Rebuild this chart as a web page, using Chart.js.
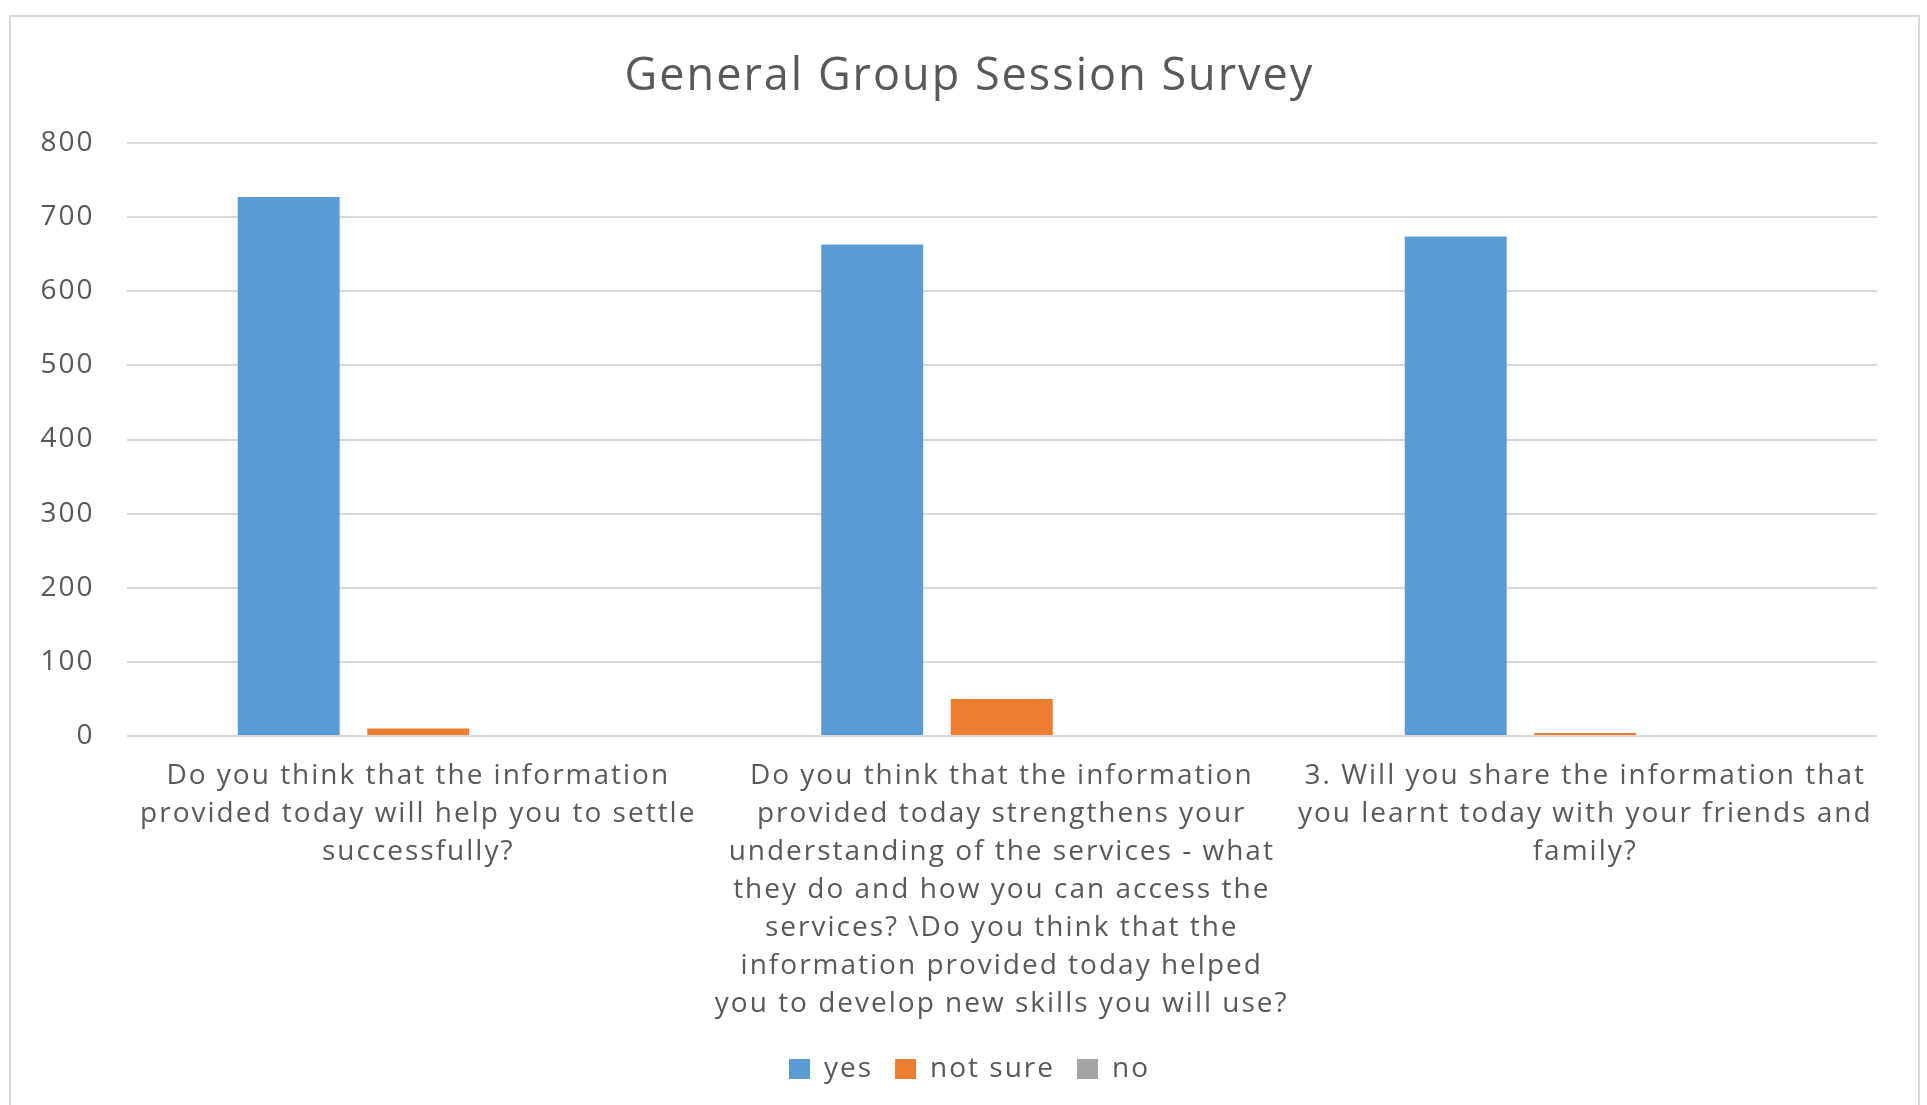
<!DOCTYPE html>
<html>
<head>
<meta charset="utf-8">
<script src="https://cdn.jsdelivr.net/npm/chart.js@4"></script>
<style>
  html, body { margin: 0; padding: 0; background: #ffffff; }
  #wrap { position: absolute; left: 0; top: 0; width: 1927px; height: 1105px; }
  #frame { position: absolute; left: 9px; top: 15px; width: 1907px; height: 1100px;
           border: 2px solid #d9d9d9; border-bottom: none; }
  canvas { position: absolute; left: 0; top: 0; }
</style>
</head>
<body>
<div id="wrap">
  <div id="frame"></div>
  <canvas id="c" width="1927" height="1105"></canvas>
</div>
<script>
const chartTitle = "General Group Session Survey";
const categories = [
  ["Do you think that the information", "provided today will help you to settle", "successfully?"],
  ["Do you think that the information", "provided today strengthens your", "understanding of the services - what", "they do and how you can access the", "services? \\Do you think that the", "information provided today helped", "you to develop new skills you will use?"],
  ["3. Will you share the information that", "you learnt today with your friends and", "family?"]
];
const seriesNames = ["yes", "not sure", "no"];
const yesValues = [727, 663, 674];
const notSureValues = [10, 50, 4];
const noValues = [0, 0, 0];
const yTicks = [0, 100, 200, 300, 400, 500, 600, 700, 800];

const colors = ["#5B9BD5", "#ED7D31", "#A5A5A5"];
const textColor = "#595959";

const spacingPlugin = {
  id: 'spacing',
  beforeLayout(chart) { chart.ctx.letterSpacing = '2px'; },
  beforeDraw(chart) { chart.ctx.letterSpacing = '2px'; }
};

const ctx = document.getElementById('c');
new Chart(ctx, {
  type: 'bar',
  data: {
    labels: categories,
    datasets: [
      { label: seriesNames[0], data: yesValues, backgroundColor: colors[0] },
      { label: seriesNames[1], data: notSureValues, backgroundColor: colors[1] },
      { label: seriesNames[2], data: noValues, backgroundColor: colors[2] }
    ]
  },
  options: {
    responsive: false,
    animation: false,
    devicePixelRatio: 1,
    layout: { padding: { left: 12, right: 0, top: 0, bottom: 12 } },
    datasets: { bar: { categoryPercentage: 0.666, barPercentage: 0.787, borderWidth: 0 } },
    plugins: {
      title: {
        display: true,
        text: chartTitle,
        color: textColor,
        font: { family: "'Open Sans'", size: 45, weight: 'normal', lineHeight: 1.2 },
        padding: { top: 50, bottom: 39 }
      },
      legend: {
        position: 'bottom',
        labels: {
          color: textColor,
          font: { family: "'Open Sans'", size: 28 },
          boxWidth: 21, boxHeight: 20, padding: 22
        }
      },
      tooltip: { enabled: false }
    },
    scales: {
      x: {
        grid: { display: false, drawTicks: false },
        border: { display: false },
        ticks: {
          color: textColor, autoSkip: false, maxRotation: 0, minRotation: 0, padding: 21,
          font: { family: "'Open Sans'", size: 28, lineHeight: 1.355 }
        },
        afterFit(scale) { scale.height = 297; }
      },
      y: {
        min: 0, max: 800,
        afterBuildTicks(scale) { scale.ticks = yTicks.map(v => ({ value: v })); },
        grid: { color: "#d9d9d9", lineWidth: 2, drawTicks: false },
        border: { display: false },
        ticks: {
          color: textColor, padding: 32,
          font: { family: "'Open Sans'", size: 28 }
        },
        afterFit(scale) { scale.width = 114.5; }
      },
      yRight: {
        position: 'right',
        min: 0, max: 800,
        grid: { display: false, drawTicks: false },
        border: { display: false },
        ticks: { display: false },
        afterFit(scale) { scale.width = 50; }
      }
    }
  },
  plugins: [spacingPlugin]
});
</script>
</body>
</html>
